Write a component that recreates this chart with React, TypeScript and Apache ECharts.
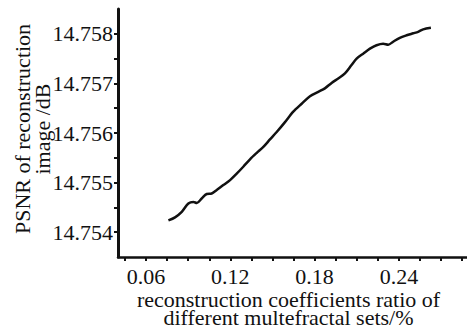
import React, { useEffect, useRef } from "react";
import * as echarts from "echarts";

const ratio = [
  0.0759, 0.0806, 0.0854, 0.0901, 0.0937, 0.0961, 0.0996, 0.1032, 0.1067, 0.1103,
  0.115, 0.1198, 0.1245, 0.1292, 0.134, 0.1388, 0.1435, 0.1482, 0.153, 0.1589,
  0.1648, 0.1708, 0.1767, 0.1826, 0.1873, 0.1921, 0.1968, 0.2016, 0.2063, 0.2099,
  0.2146, 0.2194, 0.2241, 0.2288, 0.2324, 0.2359, 0.2407, 0.2455, 0.2502, 0.2537,
  0.2573, 0.2628,
];
const psnr = [
  14.75424, 14.7543, 14.75441, 14.75458, 14.75461, 14.75459, 14.75468, 14.75477, 14.75478, 14.75485,
  14.75495, 14.75505, 14.75518, 14.75532, 14.75547, 14.7556, 14.75572, 14.75587, 14.75602, 14.75622,
  14.75643, 14.75659, 14.75674, 14.75683, 14.7569, 14.75701, 14.7571, 14.7572, 14.75737, 14.7575,
  14.7576, 14.7577, 14.75777, 14.7578, 14.75778, 14.75784, 14.75792, 14.75797, 14.75801, 14.75804,
  14.75809, 14.75812,
];

const xTickValues = [
  0.045, 0.06, 0.075, 0.09, 0.105, 0.12, 0.135, 0.15, 0.165, 0.18, 0.195, 0.21, 0.225,
  0.24, 0.255, 0.27, 0.285,
];
const xLabelValues = [0.06, 0.12, 0.18, 0.24];
const yTickValues = [
  14.754, 14.7545, 14.755, 14.7555, 14.756, 14.7565, 14.757, 14.7575, 14.758,
];
const yLabelValues = [14.754, 14.755, 14.756, 14.757, 14.758];

const xTitle = "reconstruction coefficients ratio of\ndifferent multefractal sets/%";
const yTitle = "PSNR of reconstruction\nimage /dB";

const FONT = "Liberation Serif";

export default function App() {
  const ref = useRef<HTMLDivElement>(null);
  useEffect(() => {
    if (!ref.current) return;
    const chart = echarts.init(ref.current, null, { renderer: "svg" });
    const data = ratio.map((r, i) => [r, psnr[i]]);
    chart.setOption({
      animation: false,
      backgroundColor: "#ffffff",
      grid: {
        left: 118,
        right: 0,
        top: 9,
        bottom: 68,
        containLabel: false,
        outerBoundsMode: "none",
      },
      xAxis: {
        type: "value",
        min: 0.04,
        max: 0.2885,
        name: xTitle,
        nameLocation: "middle",
        nameGap: 33,
        nameMoveOverlap: false,
        nameTextStyle: {
          fontFamily: FONT,
          fontSize: 22,
          color: "#111",
          lineHeight: 18,
          padding: [0, 8, 0, 0],
        },
        axisLine: { show: true, onZero: false, lineStyle: { color: "#111", width: 2.5 } },
        axisTick: {
          show: true,
          inside: false,
          length: 4,
          lineStyle: { color: "#111", width: 2 },
          customValues: xTickValues,
        },
        axisLabel: {
          show: true,
          margin: 9,
          fontFamily: FONT,
          fontSize: 22,
          lineHeight: 20,
          color: "#111",
          customValues: xLabelValues,
          formatter: (v: number) => v.toFixed(2),
        },
        splitLine: { show: false },
      },
      yAxis: {
        type: "value",
        min: 14.7535,
        max: 14.7585,
        name: yTitle,
        nameLocation: "middle",
        nameRotate: 90,
        nameGap: 66,
        nameMoveOverlap: false,
        nameTextStyle: {
          fontFamily: FONT,
          fontSize: 22,
          color: "#111",
          lineHeight: 20,
          padding: [0, 0, 0, 8],
        },
        axisLine: { show: true, onZero: false, lineStyle: { color: "#111", width: 3 } },
        axisTick: {
          show: true,
          inside: false,
          length: 4,
          lineStyle: { color: "#111", width: 2 },
          customValues: yTickValues,
        },
        axisLabel: {
          show: true,
          margin: 5,
          fontFamily: FONT,
          fontSize: 22,
          color: "#111",
          customValues: yLabelValues,
          formatter: (v: number) => v.toFixed(3),
        },
        splitLine: { show: false },
      },
      series: [
        {
          type: "line",
          data,
          showSymbol: false,
          smooth: 0.3,
          lineStyle: { color: "#111", width: 2.5 },
        },
      ],
    });
    return () => chart.dispose();
  }, []);
  return (
    <div
      ref={ref}
      style={{ position: "fixed", left: 0, top: 0, width: 467, height: 325, background: "#fff" }}
    />
  );
}
